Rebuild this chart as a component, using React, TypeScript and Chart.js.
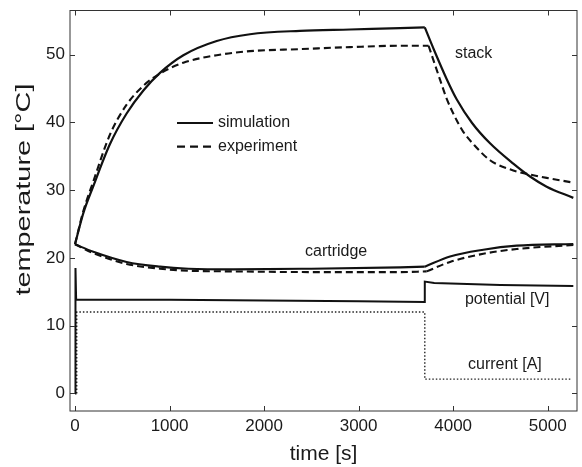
import React, { useEffect, useRef } from "react";
import { Chart, registerables } from "chart.js";

Chart.register(...registerables);

const FONT = '"Liberation Sans", Arial, Helvetica, sans-serif';

// axis ranges / ticks
const xMin = -53;
const xMax = 5310;
const yMin = -2.6;
const yMax = 56.5;
const xTickValues = [0, 1000, 2000, 3000, 4000, 5000];
const yTickValues = [0, 10, 20, 30, 40, 50];

// stack temperature, simulation
const stackSimRiseT = [0, 88, 194, 370, 546, 723, 899, 1146, 1499, 1851, 2380, 2909, 3438, 3700];
const stackSimRise = [22.0, 26.6, 30.6, 36.8, 41.3, 44.7, 47.3, 49.9, 52.0, 53.0, 53.5, 53.7, 53.9, 54.0];
const stackSimFallT = [3700, 3800, 3931, 4037, 4200, 4390, 4636, 4813, 4989, 5271];
const stackSimFall = [54.0, 50.6, 46.4, 43.4, 39.9, 36.9, 33.9, 32.0, 30.5, 28.85];

// stack temperature, experiment
const stackExpRiseT = [0, 88, 194, 370, 546, 723, 899, 1146, 1499, 1851, 2380, 2909, 3438, 3740];
const stackExpRise = [22.0, 26.9, 31.3, 38.2, 42.6, 45.4, 47.2, 48.8, 49.9, 50.5, 50.8, 51.1, 51.3, 51.3];
const stackExpFallT = [3740, 3861, 3931, 4037, 4107, 4213, 4390, 4636, 4813, 4989, 5271];
const stackExpFall = [51.3, 46.3, 43.5, 40.3, 38.6, 36.8, 34.4, 32.9, 32.3, 31.8, 31.1];

// cartridge temperature, simulation
const cartSimFallT = [0, 194, 546, 899, 1200, 1675, 2500, 3438, 3700];
const cartSimFall = [22.0, 20.9, 19.4, 18.7, 18.4, 18.3, 18.4, 18.6, 18.7];
const cartSimRiseT = [3700, 3967, 4319, 4672, 5271];
const cartSimRise = [18.7, 20.2, 21.2, 21.8, 22.05];

// cartridge temperature, experiment
const cartExpFallT = [0, 194, 546, 899, 1200, 1675, 2500, 3438, 3720];
const cartExpFall = [22.0, 20.7, 19.1, 18.4, 18.1, 18.0, 17.9, 17.9, 18.0];
const cartExpRiseT = [3720, 3967, 4319, 4672, 5271];
const cartExpRise = [18.0, 19.4, 20.6, 21.3, 21.9];

// potential [V]
const potentialT = [0, 5, 12, 1000, 2000, 3000, 3700, 3700, 3800, 4500, 5271];
const potential = [0, 18.5, 13.8, 13.8, 13.7, 13.6, 13.5, 16.5, 16.3, 16.0, 15.85];

// current [A]
const currentT = [18, 18, 3700, 3700, 5240];
const current = [0, 12, 12, 2.1, 2.1];

// labels
const xTitle = "time [s]";
const yTitle = "temperature [°C]";
const legendLabels = ["simulation", "experiment"];
const curveLabels = [
  { text: "stack", x: 4019, y: 50.1 },
  { text: "cartridge", x: 2433, y: 20.9 },
  { text: "potential [V]", x: 4125, y: 13.8 },
  { text: "current [A]", x: 4157, y: 4.2 },
];
const legendAnchor = { x: 1079, ySolid: 39.9, yDashed: 36.4 };

const pts = (t: number[], v: number[]) => t.map((x, i) => ({ x, y: v[i] }));

const INK = "#111";

const solid = (t: number[], v: number[], w = 2.2, smooth = true) => ({
  data: pts(t, v),
  borderColor: INK,
  borderWidth: w,
  pointRadius: 0,
  fill: false,
  tension: 0,
  cubicInterpolationMode: smooth ? "monotone" : "default",
});

const dashed = (t: number[], v: number[]) => ({
  ...solid(t, v, 2.1),
  borderDash: [7, 4],
});

const framePlugin = {
  id: "frameAndText",
  afterDraw(chart: any) {
    const { ctx, chartArea: a, scales } = chart;
    const xs = scales.x;
    const ys = scales.y;
    ctx.save();
    ctx.strokeStyle = "#333";
    ctx.lineWidth = 1;
    ctx.strokeRect(a.left, a.top, a.right - a.left, a.bottom - a.top);
    const tl = 5;
    ctx.beginPath();
    xs.ticks.forEach((t: any) => {
      const px = Math.round(xs.getPixelForValue(t.value)) + 0.5;
      ctx.moveTo(px, a.bottom);
      ctx.lineTo(px, a.bottom - tl);
      ctx.moveTo(px, a.top);
      ctx.lineTo(px, a.top + tl);
    });
    ys.ticks.forEach((t: any) => {
      const py = Math.round(ys.getPixelForValue(t.value)) + 0.5;
      ctx.moveTo(a.left, py);
      ctx.lineTo(a.left + tl, py);
      ctx.moveTo(a.right, py);
      ctx.lineTo(a.right - tl, py);
    });
    ctx.stroke();

    // legend
    const lx = xs.getPixelForValue(legendAnchor.x);
    const lw = 36;
    const y1 = ys.getPixelForValue(legendAnchor.ySolid);
    const y2 = ys.getPixelForValue(legendAnchor.yDashed);
    ctx.strokeStyle = INK;
    ctx.lineWidth = 2.2;
    ctx.beginPath();
    ctx.moveTo(lx, y1);
    ctx.lineTo(lx + lw, y1);
    ctx.stroke();
    ctx.setLineDash([8, 5]);
    ctx.beginPath();
    ctx.moveTo(lx, y2);
    ctx.lineTo(lx + lw, y2);
    ctx.stroke();
    ctx.setLineDash([]);
    ctx.fillStyle = "#1a1a1a";
    ctx.font = `16px ${FONT}`;
    ctx.textBaseline = "middle";
    ctx.textAlign = "left";
    ctx.fillText(legendLabels[0], lx + lw + 5, y1);
    ctx.fillText(legendLabels[1], lx + lw + 5, y2);

    curveLabels.forEach((c) => {
      ctx.fillText(c.text, xs.getPixelForValue(c.x), ys.getPixelForValue(c.y));
    });

    // y axis title (stretched along its length like the reference)
    ctx.font = `20px ${FONT}`;
    ctx.textAlign = "center";
    ctx.textBaseline = "middle";
    const w = ctx.measureText(yTitle).width;
    const target = 212;
    ctx.translate(24, a.top + (a.bottom - a.top) * 0.447);
    ctx.rotate(-Math.PI / 2);
    ctx.scale(target / w, 1);
    ctx.fillText(yTitle, 0, 0);
    ctx.restore();
  },
};

export default function App() {
  const ref = useRef<HTMLCanvasElement | null>(null);
  useEffect(() => {
    if (!ref.current) return;
    const chart = new Chart(ref.current, {
      type: "line",
      data: {
        datasets: [
          solid(stackSimRiseT, stackSimRise),
          solid(stackSimFallT, stackSimFall),
          dashed(stackExpRiseT, stackExpRise),
          dashed(stackExpFallT, stackExpFall),
          solid(cartSimFallT, cartSimFall, 2.1),
          solid(cartSimRiseT, cartSimRise, 2.1),
          dashed(cartExpFallT, cartExpFall),
          dashed(cartExpRiseT, cartExpRise),
          solid(potentialT, potential, 2.0, false),
          {
            ...solid(currentT, current, 1.4, false),
            borderDash: [1.5, 2],
            borderColor: "#222",
          },
        ] as any,
      },
      options: {
        animation: false,
        responsive: true,
        maintainAspectRatio: false,
        layout: { padding: { top: 10.5, right: 5, left: 0, bottom: 0 } },
        plugins: { legend: { display: false }, tooltip: { enabled: false } },
        scales: {
          x: {
            type: "linear",
            min: xMin,
            max: xMax,
            grid: { display: false, drawTicks: false },
            border: { display: false },
            afterBuildTicks: (s: any) => {
              s.ticks = xTickValues.map((value) => ({ value }));
            },
            ticks: {
              padding: 5,
              color: "#1a1a1a",
              font: { family: FONT, size: 17 },
              maxRotation: 0,
              autoSkip: false,
              callback: (v: any) => String(v),
            },
            title: {
              display: true,
              text: xTitle,
              color: "#1a1a1a",
              font: { family: FONT, size: 21 },
              padding: { top: 0, bottom: 0 },
            },
            afterFit: (s: any) => {
              s.height = 56;
              s.paddingLeft = 0;
              s.paddingRight = 0;
            },
          },
          y: {
            type: "linear",
            min: yMin,
            max: yMax,
            grid: { display: false, drawTicks: false },
            border: { display: false },
            afterBuildTicks: (s: any) => {
              s.ticks = yTickValues.map((value) => ({ value }));
            },
            ticks: {
              padding: 5,
              color: "#1a1a1a",
              font: { family: FONT, size: 17 },
              autoSkip: false,
              callback: (v: any) => String(v),
            },
            title: { display: false, text: yTitle },
            afterFit: (s: any) => {
              s.width = 70;
              s.paddingTop = 0;
              s.paddingBottom = 0;
            },
          },
        },
      } as any,
      plugins: [framePlugin],
    });
    return () => chart.destroy();
  }, []);

  return (
    <div style={{ position: "fixed", left: 0, top: 0, width: 582, height: 467, background: "#fff" }}>
      <canvas ref={ref} />
    </div>
  );
}
